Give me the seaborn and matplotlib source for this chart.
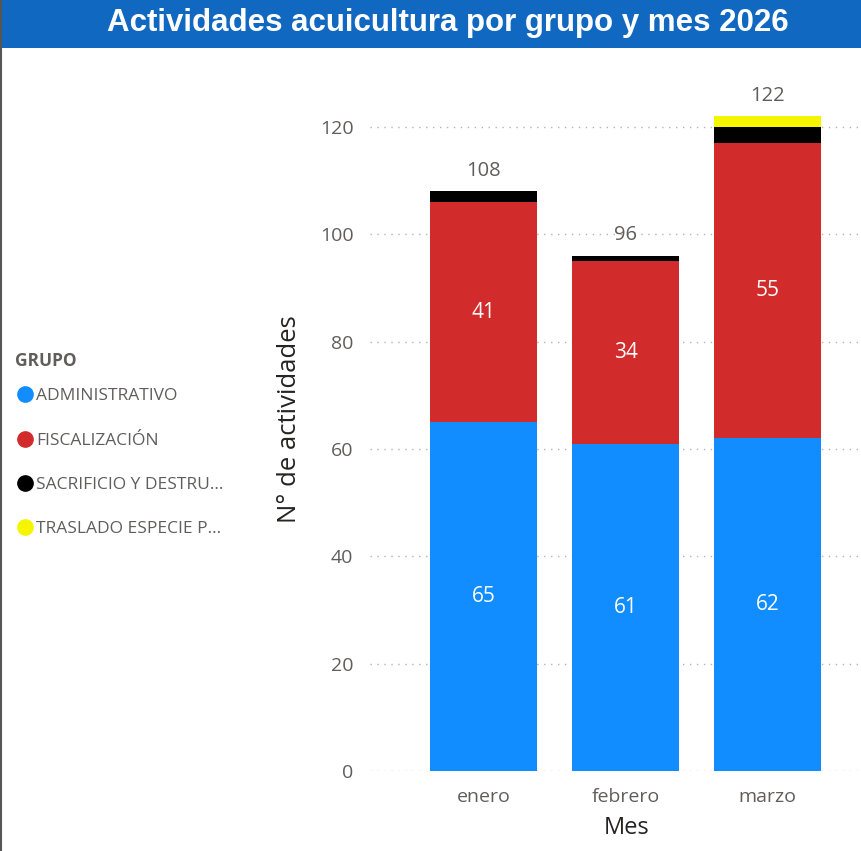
import matplotlib
matplotlib.use("Agg")
import matplotlib.pyplot as plt
import seaborn as sns
import pandas as pd
import numpy as np
from matplotlib.lines import Line2D
from matplotlib.patches import Rectangle

meses = ["enero", "febrero", "marzo"]
grupos = ["ADMINISTRATIVO", "FISCALIZACIÓN", "SACRIFICIO Y DESTRU...", "TRASLADO ESPECIE P..."]
administrativo = [65, 61, 62]
fiscalizacion = [41, 34, 55]
sacrificio = [2, 1, 3]
traslado = [0, 0, 2]
colores = ["#118DFF", "#D12B2B", "#000000", "#F5F500"]

sns.set_theme(style="white")
plt.rcParams["font.family"] = ["Open Sans", "DejaVu Sans"]

series = [administrativo, fiscalizacion, sacrificio, traslado]
cum = np.zeros(len(meses))
cums = []
for s in series:
    cum = cum + np.array(s)
    cums.append(cum.copy())

fig = plt.figure(figsize=(8.62, 8.51), dpi=100)
H = 851.0
W = 862.0
ax = fig.add_axes([370 / W, 1 - 771 / H, (W - 370) / W, (771 - 75) / H])

# draw from top layer to bottom layer (overlap stacking)
for i in range(len(series) - 1, -1, -1):
    d = pd.DataFrame({"Mes": meses, "v": cums[i]})
    sns.barplot(data=d, x="Mes", y="v", color=colores[i], ax=ax, width=0.755,
                saturation=1, linewidth=0, errorbar=None)

ax.set_ylim(0, (771 - 75) / (644 / 120))
ax.set_xlim(-0.8, 2.665)
ax.set_yticks(range(0, 121, 20))
ax.tick_params(axis="y", labelsize=14, labelcolor="#605E5C", length=0, pad=12)
ax.tick_params(axis="x", labelsize=14, labelcolor="#605E5C", length=0, pad=12)
ax.yaxis.grid(True, linestyle=(0, (1, 4)), color="#B3B3B3", linewidth=1)
ax.set_axisbelow(True)
for sp in ax.spines.values():
    sp.set_visible(False)
ax.set_ylabel("N° de actividades", fontsize=18.5, color="#252423")
ax.set_xlabel("Mes", fontsize=17, color="#252423")
ax.yaxis.set_label_coords((302 - 370) / 492, (771 - 419) / 696)
ax.xaxis.set_label_coords((627 - 370) / 492, (771 - 816) / 696)

# inside labels
for j in range(len(meses)):
    b = 0
    for i, s in enumerate(series[:2]):
        v = s[j]
        ax.text(j, b + v / 2, str(v), ha="center", va="center", color="white", fontsize=15)
        b += v
    tot = cums[-1][j]
    ax.text(j, tot + 2.0, str(int(tot)), ha="center", va="bottom", color="#605E5C", fontsize=14.5)

# legend
handles = [Line2D([0], [0], marker="o", linestyle="", markersize=11, markerfacecolor=c,
                  markeredgecolor=c) for c in colores]
leg = fig.legend(handles, grupos, loc="upper left",
                 bbox_to_anchor=(9 / W, 1 - 383 / H), frameon=False, fontsize=12.5,
                 handletextpad=0.05, labelspacing=1.62,
                 handlelength=1.2, borderaxespad=0.3, borderpad=0.0)
for t in leg.get_texts():
    t.set_color("#605E5C")
fig.text(15 / W, 1 - 361 / H, "GRUPO", ha="left", va="center", color="#605E5C",
         fontsize=12.5, fontweight="bold")

# title bar
fig.patches.append(Rectangle((0, 1 - 48 / H), 1, 48 / H, transform=fig.transFigure,
                             facecolor="#1168C0", edgecolor="none", zorder=0))
fig.text(448 / W, 1 - 23 / H, "Actividades acuicultura por grupo y mes 2026",
         ha="center", va="center", color="white", fontsize=22.5, fontweight="bold",
         family=["Liberation Sans", "DejaVu Sans"])
fig.add_artist(Line2D([1 / W, 1 / W], [0, 1], transform=fig.transFigure, color="#555555", linewidth=1.5))

fig.savefig("out.png", dpi=100)
